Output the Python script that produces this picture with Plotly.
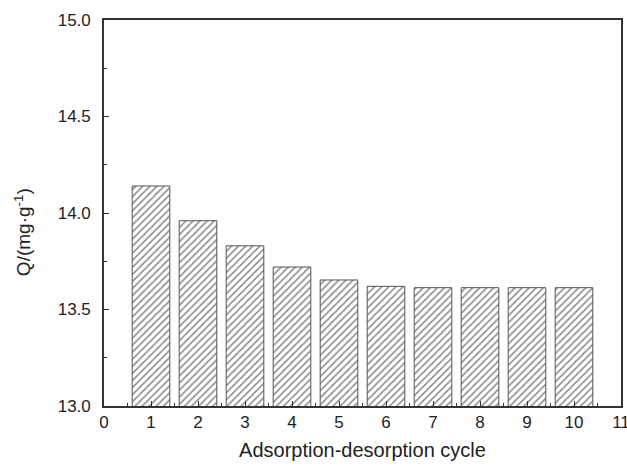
import plotly.graph_objects as go

cycles = [1, 2, 3, 4, 5, 6, 7, 8, 9, 10]
q_values = [14.14, 13.96, 13.83, 13.72, 13.653, 13.62, 13.613, 13.613, 13.613, 13.613]
x_ticks = list(range(0, 12))
y_ticks = [13.0, 13.5, 14.0, 14.5, 15.0]

FONT = "Liberation Sans, Arial"

fig = go.Figure()
fig.add_trace(go.Bar(
    x=cycles, y=q_values, width=0.8, base=0,
    marker=dict(
        color="white",
        line=dict(color="#555555", width=1),
        pattern=dict(shape="/", fgcolor="#111111", bgcolor="white", size=5, solidity=0.3),
    ),
))

axis_common = dict(
    showline=True, linecolor="#333333", linewidth=1.6, mirror=True,
    ticks="inside", tickcolor="#333333", tickwidth=1.2, ticklen=5,
    showgrid=False, zeroline=False, automargin=False,
    ticklabeloverflow="allow",
    tickfont=dict(family=FONT, size=17, color="#222222"),
)

fig.update_layout(
    width=627, height=469,
    margin=dict(l=104, r=6, t=20, b=63),
    paper_bgcolor="white", plot_bgcolor="white",
    showlegend=False,
    xaxis=dict(
        range=[0, 11], tickvals=x_ticks, ticktext=[str(v) for v in x_ticks],
        minor=dict(ticks="inside", ticklen=3, tickcolor="#333333", dtick=0.5, tick0=0),
        title=dict(text="Adsorption-desorption cycle", standoff=12,
                   font=dict(family=FONT, size=20, color="#222222")),
        **axis_common,
    ),
    yaxis=dict(
        range=[13.0, 15.0], tickvals=y_ticks, ticktext=[f"{v:.1f}" for v in y_ticks],
        minor=dict(ticks="inside", ticklen=3, tickcolor="#333333", dtick=0.25, tick0=13),
        ticklabelstandoff=8,
        **axis_common,
    ),
    annotations=[dict(
        text="Q/(mg·g<sup>-1</sup>)", textangle=-90,
        xref="paper", yref="paper", x=-0.157, y=0.45,
        xanchor="center", yanchor="middle", showarrow=False,
        font=dict(family=FONT, size=19, color="#222222"),
    )],
)

fig.write_html("out.html")
